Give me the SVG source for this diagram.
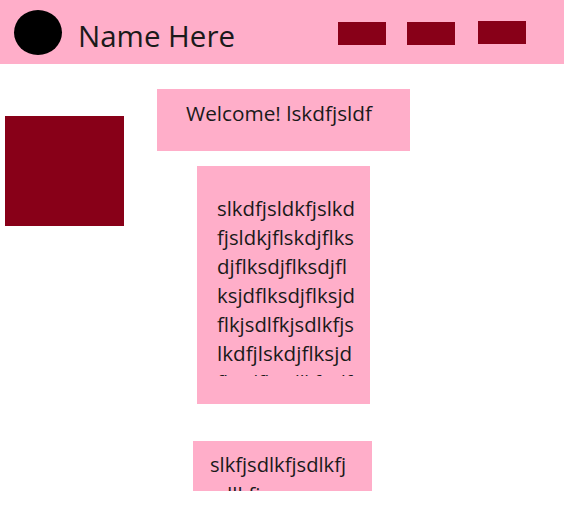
<svg xmlns="http://www.w3.org/2000/svg" width="564" height="515" viewBox="0 0 564 515">
<style>
.pink{fill:#FFAEC9}
.red{fill:#880018}
text{font-family:"Open Sans","Noto Sans","Liberation Sans",sans-serif;fill:#1a1a1a}
.body{font-size:20.5px}
</style>
<defs>
<clipPath id="clipMid"><rect x="197" y="166" width="173" height="210"/></clipPath>
<clipPath id="clipBot"><rect x="193" y="441" width="179" height="50"/></clipPath>
</defs>
<rect width="564" height="515" fill="#ffffff"/>
<g id="header">
<rect class="pink" x="0" y="0" width="564" height="64"/>
<ellipse cx="38" cy="32.5" rx="24" ry="22.5" fill="#000"/>
<text x="78" y="47" font-size="29" textLength="157" lengthAdjust="spacingAndGlyphs">Name Here</text>
<rect class="red" x="338" y="22" width="48" height="23"/>
<rect class="red" x="407" y="22" width="48" height="23"/>
<rect class="red" x="478" y="21" width="48" height="23"/>
</g>
<g id="side-square">
<rect class="red" x="5" y="116" width="119" height="110"/>
</g>
<g id="welcome">
<rect class="pink" x="157" y="89" width="253" height="62"/>
<text class="body" x="186" y="121" textLength="186" lengthAdjust="spacingAndGlyphs">Welcome! lskdfjsldf</text>
</g>
<g id="middle-box">
<rect class="pink" x="197" y="166" width="173" height="238"/>
<g clip-path="url(#clipMid)">
<text class="body" x="217" y="216" textLength="138" lengthAdjust="spacingAndGlyphs">slkdfjsldkfjslkd</text>
<text class="body" x="217" y="245" textLength="137" lengthAdjust="spacingAndGlyphs">fjsldkjflskdjflks</text>
<text class="body" x="217" y="274" textLength="130" lengthAdjust="spacingAndGlyphs">djflksdjflksdjfl</text>
<text class="body" x="217" y="303" textLength="138" lengthAdjust="spacingAndGlyphs">ksjdflksdjflksjd</text>
<text class="body" x="217" y="332" textLength="137" lengthAdjust="spacingAndGlyphs">flkjsdlfkjsdlkfjs</text>
<text class="body" x="217" y="361" textLength="135" lengthAdjust="spacingAndGlyphs">lkdfjlskdjflksjd</text>
<text class="body" x="217" y="390" textLength="135" lengthAdjust="spacingAndGlyphs">fksjdfkjsdlkfsjdf</text>
</g>
</g>
<g id="bottom-box">
<rect class="pink" x="193" y="441" width="179" height="50"/>
<g clip-path="url(#clipBot)">
<text class="body" x="210" y="472" textLength="136" lengthAdjust="spacingAndGlyphs">slkfjsdlkfjsdlkfj</text>
<text class="body" x="210" y="502">sdlkfj</text>
</g>
</g>
</svg>
